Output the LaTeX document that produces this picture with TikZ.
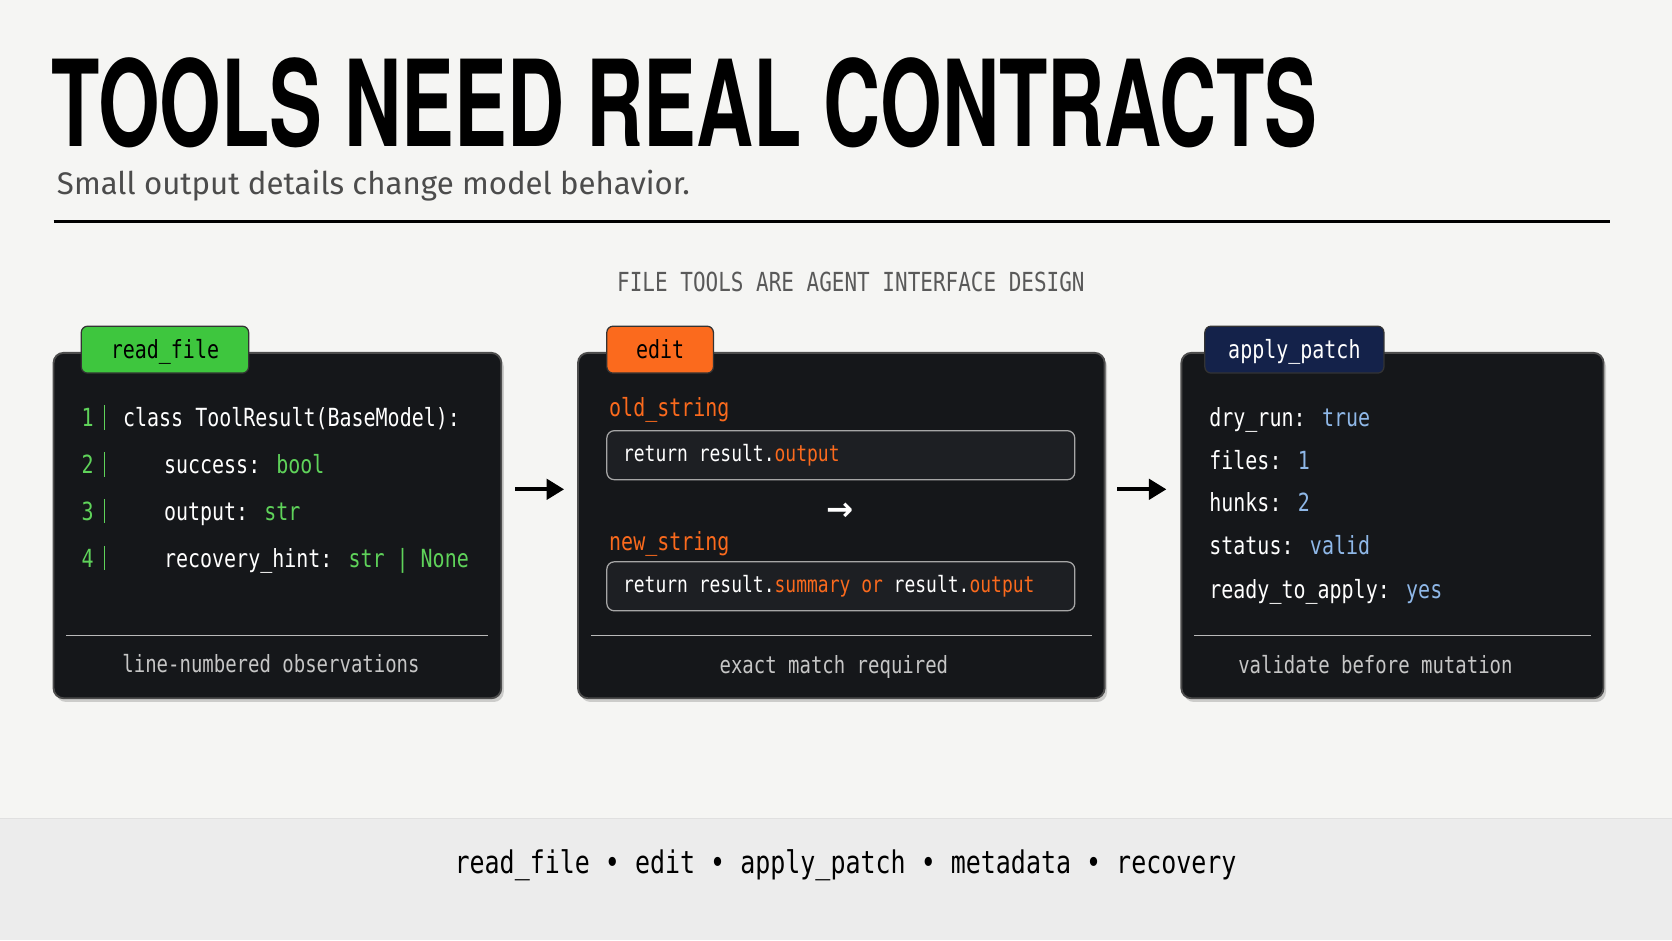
\documentclass[tikz,border=0pt]{standalone}
\usepackage{fontspec}
\setmainfont{Fira Sans}
\newfontfamily\titlefont[FakeStretch=0.66]{TeX Gyre Heros}
\newfontfamily\code[FakeStretch=0.8]{DejaVu Sans Mono}
\newfontfamily\symfont{DejaVu Sans}
\usetikzlibrary{shadows,positioning,arrows.meta}
\definecolor{paper}{HTML}{F5F5F3}
\definecolor{band}{HTML}{ECECEC}
\definecolor{panel}{HTML}{15171A}
\definecolor{field}{HTML}{1D1F23}
\definecolor{okgreen}{HTML}{3EC63E}
\definecolor{codegreen}{HTML}{5FD35A}
\definecolor{hot}{HTML}{FB6A1D}
\definecolor{navy}{HTML}{14224A}
\definecolor{soft}{HTML}{8FB8E8}
\tikzset{
  card/.style = {fill=panel, draw=black!70, line width=1.5pt, rounded corners=8pt,
                 drop shadow={opacity=0.35, shadow xshift=2pt, shadow yshift=-3pt}},
  tab/.style  = {rounded corners=5pt, draw=black!80, line width=1pt},
  slot/.style = {fill=field, draw=gray!70, line width=1pt, rounded corners=6pt},
  txt/.style  = {anchor=base west, inner sep=0pt, font=\code\fontsize{20}{24}\selectfont, text=white},
  note/.style = {anchor=base, inner sep=0pt, font=\code\fontsize{19}{22}\selectfont, text=gray!45},
  flow/.style = {-{Triangle[length=14pt,width=16pt]}, line width=3.5pt},
}
\begin{document}
\begin{tikzpicture}[x=0.03cm, y=-0.03cm]
\fill[paper] (0,0) rectangle (1568,882);
\fill[band] (0,768) rectangle (1568,882);
\draw[black!12] (0,768) -- (1568,768);

% heading
\node[anchor=base west, inner sep=0pt, font=\titlefont\bfseries\fontsize{96}{96}\selectfont] (title) at (48,137) {TOOLS NEED REAL CONTRACTS};
\node[anchor=base west, inner sep=0pt, text=black!70, font=\fontsize{25}{30}\selectfont] (sub) at (53,182) {Small output details change model behavior.};
\draw[line width=2.5pt] (50,208) -- (1510,208);
\node[anchor=base, inner sep=0pt, text=black!65, font=\code\fontsize{21}{24}\selectfont] (kicker) at (798,273) {FILE TOOLS ARE AGENT INTERFACE DESIGN};

% cards
\draw[card] (50,331) rectangle (470,655);
\draw[card] (542,331) rectangle (1036,655);
\draw[card] (1108,331) rectangle (1504,655);
\draw[gray!55, line width=1pt] (62,596) -- (458,596);
\draw[gray!55, line width=1pt] (554,596) -- (1024,596);
\draw[gray!55, line width=1pt] (1120,596) -- (1492,596);

% tabs
\draw[tab, fill=okgreen] (76,306) rectangle (233,350);
\node[txt, text=black, anchor=base] (t1) at (154.5,336) {read\_file};
\draw[tab, fill=hot] (569,306) rectangle (669,350);
\node[txt, text=black, anchor=base] (t2) at (619,336) {edit};
\draw[tab, fill=navy] (1130,306) rectangle (1298,350);
\node[txt, anchor=base] (t3) at (1214,336) {apply\_patch};

% read_file card
\foreach \n/\y/\line in {1/400/{class ToolResult(BaseModel):},
                         2/444/{\hspace*{3ex}success: \textcolor{codegreen}{bool}},
                         3/488/{\hspace*{3ex}output: \textcolor{codegreen}{str}},
                         4/532/{\hspace*{3ex}recovery\_hint: \textcolor{codegreen}{str | None}}} {
  \node[txt, text=codegreen] (n\n) at (76,\y) {\n};
  \draw[codegreen, line width=1pt] (98,\y-20) -- (98,\y+3);
  \node[txt] (l\n) at (115,\y) {\line};
}
\node[note] (f1) at (254,631) {line-numbered observations};

% edit card
\node[txt, text=hot] (old) at (571,391) {old\_string};
\draw[slot] (569,404) rectangle (1008,450);
\node[txt, font=\code\fontsize{18}{22}\selectfont] (oldv) at (584,433) {return result.\textcolor{hot}{output}};
\node[inner sep=0pt, text=white, font=\symfont\bfseries\fontsize{26}{26}\selectfont] (mid) at (788,480) {→};
\node[txt, text=hot] (new) at (571,516) {new\_string};
\draw[slot] (569,527) rectangle (1008,573);
\node[txt, font=\code\fontsize{18}{22}\selectfont] (newv) at (584,556) {return result.\textcolor{hot}{summary or} result.\textcolor{hot}{output}};
\node[note] (f2) at (782,632) {exact match required};

% apply_patch card
\foreach \k/\v/\y in {dry\_run/true/400, files/1/440, hunks/2/480, status/valid/520, ready\_to\_apply/yes/561} {
  \node[txt] (k\y) at (1134,\y) {\k:\hspace{1.2ex}\textcolor{soft}{\v}};
}
\node[note] (f3) at (1290,632) {validate before mutation};

% arrows between cards
\coordinate (a1) at (483,459); \coordinate (b1) at (529,459);
\coordinate (a2) at (1048,459); \coordinate (b2) at (1094,459);
\draw[flow] (a1) -- (b1);
\draw[flow] (a2) -- (b2);

% footer
\node[anchor=base, inner sep=0pt, font=\code\fontsize{25}{30}\selectfont] (foot) at (793,819)
  {read\_file \textbullet{} edit \textbullet{} apply\_patch \textbullet{} metadata \textbullet{} recovery};
\end{tikzpicture}
\end{document}
